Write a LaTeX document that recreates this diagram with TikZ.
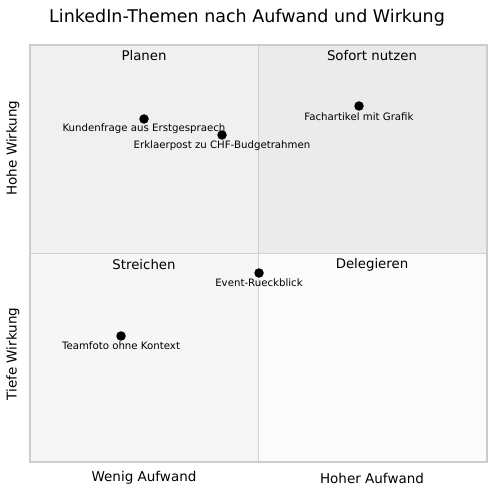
\documentclass[tikz,border=0pt]{standalone}
\usepackage{fontspec}
\setmainfont{DejaVu Sans}
\begin{document}
\begin{tikzpicture}[x=1pt,y=-1pt,
  qlabel/.style={font=\fontsize{13.3}{15}\selectfont, anchor=center},
  axlabel/.style={font=\fontsize{13.5}{15}\selectfont, anchor=center},
  dot/.style={circle, fill=black, inner sep=0pt, minimum size=9.5pt},
  plabel/.style={font=\fontsize{10.2}{12}\selectfont, anchor=center, inner sep=0pt}]
\useasboundingbox[fill=white] (0,0) rectangle (500,500);
\fill[gray!12] (30,45) rectangle (258,253);
\fill[gray!16] (258,45) rectangle (487,253);
\fill[gray!7] (30,253) rectangle (258,462);
\fill[gray!3] (258,253) rectangle (487,462);
\draw[gray!35, line width=0.8pt] (258,45) -- (258,462);
\draw[gray!35, line width=0.8pt] (30,253) -- (487,253);
\draw[gray!40, line width=1.2pt] (30,45) rectangle (487,462);
\node[font=\fontsize{17.5}{20}\selectfont] (title) at (247,18) {LinkedIn-Themen nach Aufwand und Wirkung};
\node[qlabel] (q1) at (144,56) {Planen};
\node[qlabel] (q2) at (372,56) {Sofort nutzen};
\node[qlabel] (q3) at (144,265) {Streichen};
\node[qlabel] (q4) at (372,265) {Delegieren};
\node[axlabel] (xl) at (144,478) {Wenig Aufwand};
\node[axlabel] (xh) at (372,478) {Hoher Aufwand};
\node[axlabel, rotate=90] (yh) at (13,148) {Hohe Wirkung};
\node[axlabel, rotate=90] (yl) at (13,354) {Tiefe Wirkung};
\node[dot] (p1) at (144,119) {};
\node[plabel] (l1) at (144,129) {Kundenfrage aus Erstgespraech};
\node[dot] (p2) at (222,135) {};
\node[plabel] (l2) at (222,146) {Erklaerpost zu CHF-Budgetrahmen};
\node[dot] (p3) at (359,106) {};
\node[plabel] (l3) at (359,117) {Fachartikel mit Grafik};
\node[dot] (p4) at (259,273) {};
\node[plabel] (l4) at (259,283) {Event-Rueckblick};
\node[dot] (p5) at (121,336) {};
\node[plabel] (l5) at (121,346) {Teamfoto ohne Kontext};
\end{tikzpicture}
\end{document}
